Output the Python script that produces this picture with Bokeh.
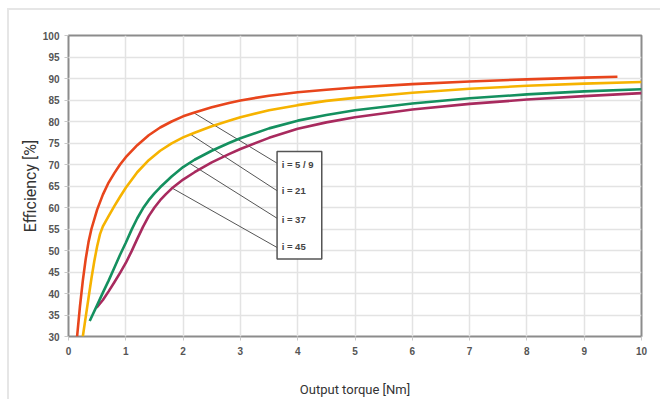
from bokeh.plotting import figure
from bokeh.models import FixedTicker, Range1d
from bokeh.core.properties import value
from bokeh.embed import file_html
from bokeh.resources import INLINE

# --- data ---
red_x = [0.15, 0.2, 0.25, 0.3, 0.35, 0.4, 0.5, 0.6, 0.7, 0.8, 0.9, 1.0, 1.2, 1.4, 1.6, 1.8, 2.0, 2.2, 2.5, 2.8, 3.0,
         3.5, 4.0, 4.5, 5.0, 6.0, 7.0, 8.0, 9.0, 9.58]
red_y = [30.0, 37.0, 43.0, 48.0, 52.0, 55.0, 59.5, 63.0, 65.8, 68.0, 70.0, 71.7, 74.5, 76.8, 78.6, 80.0, 81.2, 82.1,
         83.3, 84.3, 84.9, 86.0, 86.8, 87.4, 87.9, 88.7, 89.3, 89.8, 90.2, 90.4]
yel_x = [0.25, 0.3, 0.35, 0.4, 0.45, 0.5, 0.55, 0.6, 0.7, 0.8, 0.9, 1.0, 1.2, 1.4, 1.6, 1.8, 2.0, 2.2, 2.5, 2.8, 3.0,
         3.5, 4.0, 4.5, 5.0, 6.0, 7.0, 8.0, 9.0, 10.0]
yel_y = [30.0, 34.5, 39.0, 43.5, 47.5, 51.0, 53.8, 55.6, 58.0, 60.3, 62.5, 64.6, 68.2, 71.0, 73.2, 74.9, 76.3, 77.4,
         78.9, 80.2, 81.0, 82.6, 83.8, 84.8, 85.5, 86.7, 87.6, 88.3, 88.8, 89.2]
grn_x = [0.37, 0.5, 0.6, 0.7, 0.8, 0.9, 1.0, 1.1, 1.2, 1.3, 1.4, 1.5, 1.6, 1.8, 2.0, 2.2, 2.5, 2.8, 3.0, 3.5, 4.0,
         4.5, 5.0, 6.0, 7.0, 8.0, 9.0, 10.0]
grn_y = [33.6, 37.3, 40.2, 43.0, 46.0, 49.0, 51.8, 54.8, 57.5, 59.8, 61.7, 63.3, 64.7, 67.2, 69.4, 71.1, 73.2, 75.0,
         76.1, 78.4, 80.2, 81.5, 82.6, 84.2, 85.4, 86.3, 87.0, 87.5]
mag_x = [0.49, 0.6, 0.7, 0.8, 0.9, 1.0, 1.1, 1.2, 1.3, 1.4, 1.5, 1.6, 1.7, 1.8, 2.0, 2.2, 2.5, 2.8, 3.0, 3.5, 4.0,
         4.5, 5.0, 6.0, 7.0, 8.0, 9.0, 10.0]
mag_y = [36.7, 38.5, 40.5, 42.6, 44.8, 47.1, 49.8, 52.7, 55.5, 58.0, 60.0, 61.7, 63.1, 64.4, 66.5, 68.2, 70.5, 72.4,
         73.6, 76.2, 78.3, 79.8, 81.0, 82.8, 84.1, 85.1, 85.9, 86.6]

labels = ["i = 5 / 9", "i = 21", "i = 37", "i = 45"]
leader_x0 = [2.19, 2.13, 2.10, 1.81]
leader_y0 = [82.0, 77.0, 70.4, 64.5]
leader_x1 = [3.64, 3.64, 3.64, 3.64]
leader_y1 = [70.3, 63.9, 57.5, 50.7]
label_x = [3.72, 3.72, 3.72, 3.72]
label_y = [69.9, 63.9, 57.3, 50.9]
box_left, box_right, box_top, box_bottom = 3.64, 4.42, 73.0, 48.0

x_ticks = list(range(0, 11))
y_ticks = list(range(30, 101, 5))

p = figure(width=653, height=391, output_backend="svg", toolbar_location=None,
           x_range=Range1d(0, 10), y_range=Range1d(30, 100),
           min_border_left=59, min_border_right=21, min_border_top=25, min_border_bottom=65)
p.margin = (8, 0, 0, 7)
p.styles = {"border-top": "2px solid #e6e6e6", "border-left": "2px solid #e6e6e6"}

p.outline_line_color = "#8c8c8c"
p.outline_line_width = 2
p.background_fill_color = "white"
p.border_fill_color = "white"

p.xgrid.grid_line_color = "#e3e3e3"
p.ygrid.grid_line_color = "#e3e3e3"
p.xgrid.grid_line_width = 1.5
p.ygrid.grid_line_width = 1.5
p.xaxis.ticker = FixedTicker(ticks=x_ticks)
p.yaxis.ticker = FixedTicker(ticks=y_ticks)

for ax in (p.xaxis[0], p.yaxis[0]):
    ax.axis_line_color = None
    ax.major_tick_line_color = "#c8c8c8"
    ax.major_tick_out = 4
    ax.major_tick_in = 0
    ax.minor_tick_line_color = None
    ax.major_label_text_font = "Liberation Sans"
    ax.major_label_text_font_style = "bold"
    ax.major_label_text_font_size = "10px"
    ax.major_label_text_color = "#555555"
    ax.axis_label_text_font = "Roboto"
    ax.axis_label_text_font_style = "normal"
    ax.axis_label_text_color = "#333333"

p.xaxis.axis_label = "Output torque [Nm]"
p.yaxis.axis_label = "Efficiency [%]"
p.xaxis.axis_label_text_font_size = "13px"
p.yaxis.axis_label_text_font_size = "16px"
p.xaxis.major_label_standoff = 6
p.yaxis.major_label_standoff = 5
p.xaxis.axis_label_standoff = 24
p.yaxis.axis_label_standoff = 0

p.segment(leader_x0, leader_y0, leader_x1, leader_y1, line_color="#555555", line_width=1)

p.line(mag_x, mag_y, line_color="#a82a5e", line_width=2.6, line_join="round")
p.line(grn_x, grn_y, line_color="#14905f", line_width=2.6, line_join="round")
p.line(yel_x, yel_y, line_color="#f6b300", line_width=2.6, line_join="round")
p.line(red_x, red_y, line_color="#e8451c", line_width=2.6, line_join="round")

p.quad(left=[box_left], right=[box_right], top=[box_top], bottom=[box_bottom],
       fill_color="white", line_color="#555555", line_width=1.5)
p.text(label_x, label_y, text=labels, text_font=value("Liberation Sans"),
       text_font_style="bold", text_font_size="9.5px", text_color="#444444",
       text_baseline="middle", text_align="left")

open("out.html", "w").write(file_html(p, INLINE))
